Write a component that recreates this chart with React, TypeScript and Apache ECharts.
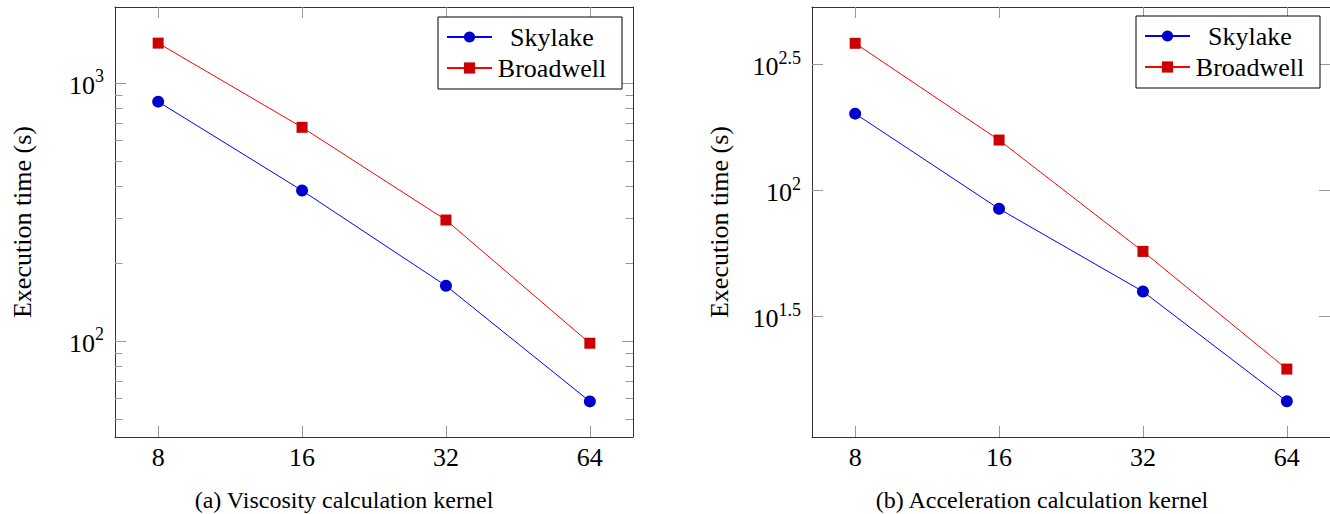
import React, { useEffect, useRef } from "react";
import * as echarts from "echarts";

const cores = [8, 16, 32, 64];
const seriesNames = ["Skylake", "Broadwell"];
const viscSkylake = [849, 384, 164, 58.4];
const viscBroadwell = [1432, 675, 295, 98.2];
const accelSkylake = [202, 84.7, 39.8, 14.6];
const accelBroadwell = [384, 158.7, 57.4, 19.6];
const viscYRange = [42.5, 1977];
const accelYRange = [10.54, 535];
const xRange = [6.498, 78.79];
const viscMajorTicks = [100, 1000];
const viscMinorTicks = [50, 60, 70, 80, 90, 200, 300, 400, 500, 600, 700, 800, 900];
const accelMajorTicks = [31.6228, 100, 316.228];
const accelMinorTicks: number[] = [];
const captions = ["(a) Viscosity calculation kernel", "(b) Acceleration calculation kernel"];
const yAxisTitle = "Execution time (s)";

const FONT = "Liberation Serif";
const TICK_COLOR = "#999";
const LINE_COLOR = "#333";

function supLabel(v: number) {
  const e = Math.round(Math.log10(v) * 10) / 10;
  return "{b|10}{s|" + String(e) + "}";
}

function buildOption() {
  const grid: any[] = [];
  const xAxis: any[] = [];
  const yAxis: any[] = [];
  const series: any[] = [];
  const legend: any[] = [];
  const graphic: any[] = [];

  const panels = [
    { left: 115, yr: viscYRange, major: viscMajorTicks, minor: viscMinorTicks, sky: viscSkylake, brd: viscBroadwell, legendLeft: 438, legendTop: 17, capX: 344 },
    { left: 812, yr: accelYRange, major: accelMajorTicks, minor: accelMinorTicks, sky: accelSkylake, brd: accelBroadwell, legendLeft: 1136, legendTop: 16, capX: 1042 },
  ];

  panels.forEach((p, gi) => {
    grid.push({ left: p.left, top: 7, width: 518, height: 430, containLabel: false });

    const xBase = {
      type: "log",
      logBase: 2,
      gridIndex: gi,
      min: xRange[0],
      max: xRange[1],
      splitLine: { show: false },
      axisLine: { show: true, onZero: false, lineStyle: { color: LINE_COLOR, width: 1 } },
      axisTick: { show: true, inside: true, length: 11, lineStyle: { color: TICK_COLOR, width: 1 }, customValues: cores },
    };
    const xMain = xAxis.length;
    xAxis.push({
      ...xBase,
      position: "bottom",
      axisLabel: { show: true, customValues: cores, margin: 7, fontSize: 26, fontFamily: FONT, color: "#000" },
    });
    xAxis.push({ ...xBase, position: "top", axisLabel: { show: false } });

    const yBase = {
      type: "log",
      logBase: 10,
      gridIndex: gi,
      min: p.yr[0],
      max: p.yr[1],
      splitLine: { show: false },
      axisLine: { show: true, onZero: false, lineStyle: { color: LINE_COLOR, width: 1 } },
    };
    const yMain = yAxis.length;
    yAxis.push({
      ...yBase,
      position: "left",
      name: yAxisTitle,
      nameLocation: "middle",
      nameGap: 80,
      nameTextStyle: { fontSize: 26, fontFamily: FONT, color: "#000" },
      axisTick: { show: true, inside: true, length: 11, lineStyle: { color: TICK_COLOR, width: 1 }, customValues: p.major },
      axisLabel: {
        show: true,
        customValues: p.major,
        margin: 11,
        color: "#000",
        fontFamily: FONT,
        formatter: (v: number) => supLabel(v),
        rich: {
          b: { fontSize: 26, fontFamily: FONT, color: "#000", lineHeight: 26, padding: [4, 0, 0, 0] },
          s: { fontSize: 18, fontFamily: FONT, color: "#000", lineHeight: 18, padding: [0, 0, 14, 0] },
        },
      },
    });
    yAxis.push({
      ...yBase,
      position: "right",
      axisTick: { show: true, inside: true, length: 11, lineStyle: { color: TICK_COLOR, width: 1 }, customValues: p.major },
      axisLabel: { show: false },
    });
    if (p.minor.length) {
      ["left", "right"].forEach((pos) => {
        yAxis.push({
          ...yBase,
          position: pos,
          axisLine: { show: false },
          axisTick: { show: true, inside: true, length: 7.5, lineStyle: { color: TICK_COLOR, width: 1 }, customValues: p.minor },
          axisLabel: { show: false },
        });
      });
    }

    const sets = [
      { name: seriesNames[0], data: p.sky, symbol: "circle", size: 12, fill: "#0000cc", line: "#0000ff" },
      { name: seriesNames[1], data: p.brd, symbol: "rect", size: 11, fill: "#cc0000", line: "#ff0000" },
    ];
    sets.forEach((s) => {
      series.push({
        type: "line",
        name: s.name,
        xAxisIndex: xMain,
        yAxisIndex: yMain,
        data: cores.map((c, i) => [c, s.data[i]]),
        symbol: s.symbol,
        symbolSize: s.size,
        showAllSymbol: true,
        itemStyle: { color: s.fill },
        lineStyle: { color: s.line, width: 1 },
        emphasis: { disabled: true },
        z: 3,
      });
    });

    legend.push({
      orient: "vertical",
      left: p.legendLeft,
      top: p.legendTop,
      padding: [7, 15, 8, 8],
      itemGap: 5,
      itemWidth: 45,
      itemHeight: 14,
      borderColor: "#000",
      borderWidth: 1,
      backgroundColor: "#fff",
      selectedMode: false,
      data: seriesNames,
      formatter: "{c|{name}}",
      textStyle: {
        color: "#000",
        fontSize: 26,
        fontFamily: FONT,
        rich: { c: { width: 110, align: "center", fontSize: 26, fontFamily: FONT, color: "#000", lineHeight: 28 } },
      },
    });

    graphic.push({
      type: "text",
      x: p.capX,
      y: 500,
      style: { text: captions[gi], fontSize: 24, fontFamily: FONT, fill: "#000", align: "center", verticalAlign: "middle" },
    });
  });

  return { animation: false, backgroundColor: "#fff", textStyle: { fontFamily: FONT }, grid, xAxis, yAxis, series, legend, graphic };
}

export default function App() {
  const ref = useRef<HTMLDivElement>(null);
  useEffect(() => {
    if (!ref.current) return;
    const chart = echarts.init(ref.current, undefined, { renderer: "svg" });
    chart.setOption(buildOption() as any);
    return () => chart.dispose();
  }, []);
  return <div ref={ref} style={{ position: "absolute", left: 0, top: 0, width: 1330, height: 514 }} />;
}
